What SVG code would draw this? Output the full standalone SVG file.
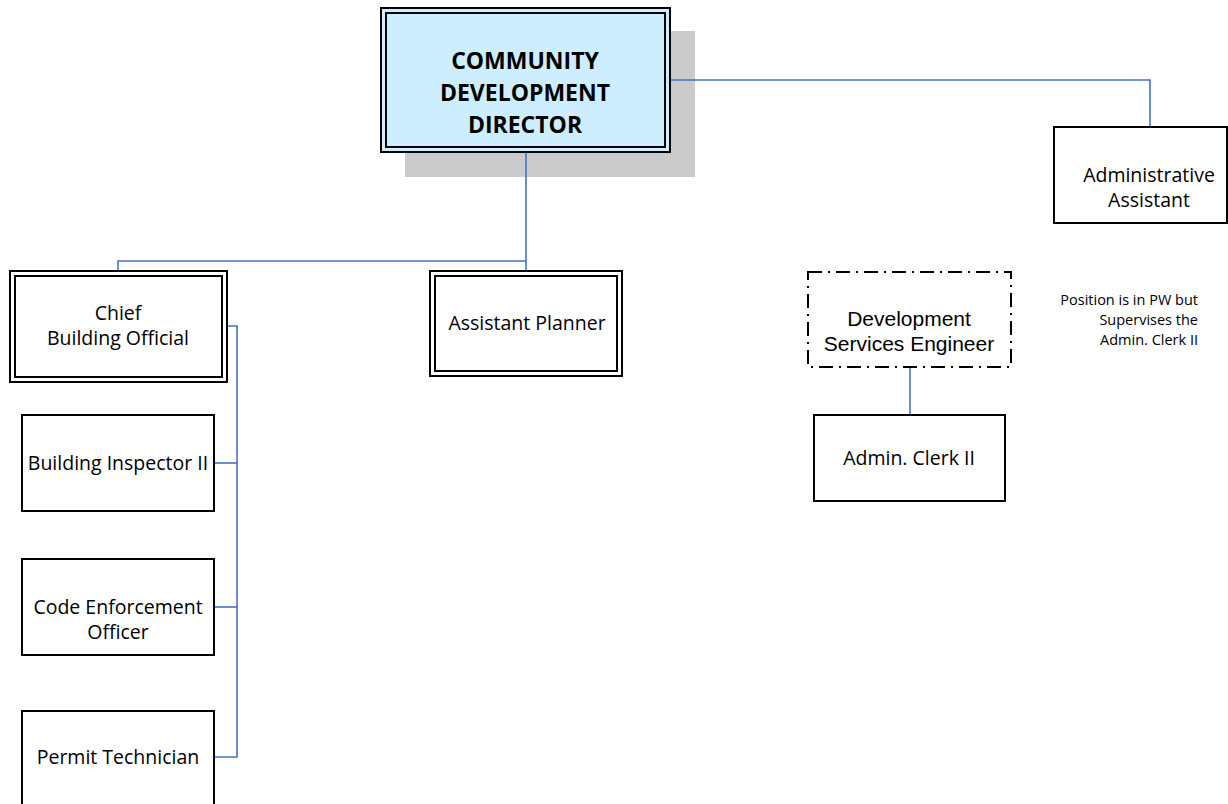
<svg xmlns="http://www.w3.org/2000/svg" width="1228" height="804" viewBox="0 0 1228 804">
  <style>
    .box { fill: #ffffff; stroke: #000000; stroke-width: 2; }
    .inner { fill: none; stroke: #000000; stroke-width: 2; }
    .lbl { font-family: "Open Sans", "Noto Sans", sans-serif; font-size: 19.5px; fill: #000000; text-anchor: middle; }
    .head { font-family: "Open Sans", "Noto Sans", sans-serif; font-size: 23px; font-weight: bold; fill: #000000; text-anchor: middle; }
    .arial { font-family: "Liberation Sans", Arial, sans-serif; font-size: 21px; fill: #000000; text-anchor: middle; }
    .note { font-family: "Open Sans", "Noto Sans", sans-serif; font-size: 14.5px; fill: #000000; text-anchor: end; }
    .conn { fill: none; stroke: #4472c4; stroke-width: 1.6; }
  </style>

  <!-- director drop shadow sits beneath the reporting lines -->
  <rect id="director-shadow" x="405" y="31" width="290" height="146" fill="#cbcbcb"/>

  <!-- reporting lines -->
  <g id="connectors">
    <path class="conn" d="M670 80 H1150 V127"/>
    <path class="conn" d="M526 152 V271"/>
    <path class="conn" d="M526 261 H118 V271"/>
    <path class="conn" d="M227 326 H237 V757 H214"/>
    <path class="conn" d="M214 463 H237"/>
    <path class="conn" d="M214 607 H237"/>
    <path class="conn" d="M910 367 V415"/>
  </g>

  <g id="director">
    <rect x="381" y="8" width="289" height="144" fill="#cdeefe" stroke="#000000" stroke-width="2"/>
    <rect x="386" y="13" width="279" height="134" class="inner"/>
    <text class="head" x="525" y="69">COMMUNITY</text>
    <text class="head" x="525" y="101">DEVELOPMENT</text>
    <text class="head" x="525" y="133">DIRECTOR</text>
  </g>

  <g id="admin-assistant">
    <rect x="1054" y="127" width="173" height="96" class="box"/>
    <text class="lbl" x="1149" y="182">Administrative</text>
    <text class="lbl" x="1149" y="207">Assistant</text>
  </g>

  <g id="chief-building-official">
    <rect x="10" y="271" width="217" height="111" class="box"/>
    <rect x="15" y="276" width="207" height="101" class="inner"/>
    <text class="lbl" x="118" y="320">Chief</text>
    <text class="lbl" x="118" y="345">Building Official</text>
  </g>

  <g id="assistant-planner">
    <rect x="430" y="271" width="192" height="105" class="box"/>
    <rect x="435" y="276" width="182" height="95" class="inner"/>
    <text class="lbl" x="527" y="330">Assistant Planner</text>
  </g>

  <g id="dev-services-engineer">
    <rect x="808" y="272" width="203" height="95" fill="#ffffff" stroke="#000000" stroke-width="2" stroke-dasharray="14,6,2,6"/>
    <text class="arial" x="909" y="326">Development</text>
    <text class="arial" x="909" y="351">Services Engineer</text>
  </g>

  <g id="pw-note">
    <text class="note" x="1198" y="305">Position is in PW but</text>
    <text class="note" x="1198" y="325">Supervises the</text>
    <text class="note" x="1198" y="345">Admin. Clerk II</text>
  </g>

  <g id="admin-clerk">
    <rect x="814" y="415" width="191" height="86" class="box"/>
    <text class="lbl" x="909" y="465">Admin. Clerk II</text>
  </g>

  <g id="building-inspector">
    <rect x="22" y="415" width="192" height="96" class="box"/>
    <text class="lbl" x="118" y="470">Building Inspector II</text>
  </g>

  <g id="code-enforcement">
    <rect x="22" y="559" width="192" height="96" class="box"/>
    <text class="lbl" x="118" y="614">Code Enforcement</text>
    <text class="lbl" x="118" y="639">Officer</text>
  </g>

  <g id="permit-technician">
    <rect x="22" y="711" width="192" height="100" class="box"/>
    <text class="lbl" x="118" y="764">Permit Technician</text>
  </g>
</svg>
